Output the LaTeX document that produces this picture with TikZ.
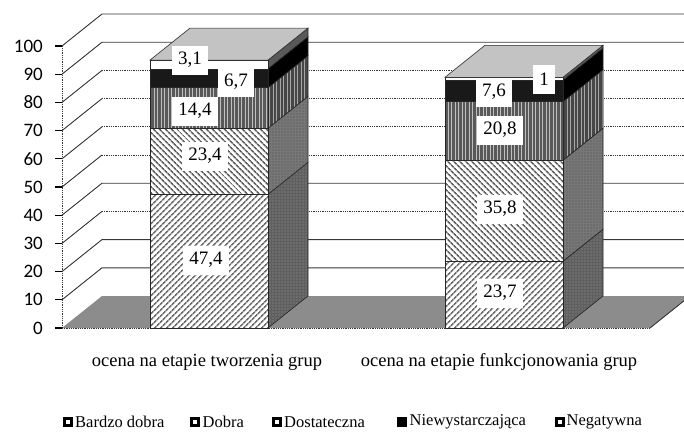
\documentclass[tikz,border=0pt]{standalone}
\usepackage{fontspec}
\setmainfont{Liberation Serif}
\newfontfamily\axisfont{Carlito}
\usetikzlibrary{patterns.meta}

\definecolor{floorgray}{RGB}{140,140,140}
\definecolor{topgray}{RGB}{195,195,195}
\definecolor{sidegray}{RGB}{95,95,95}
\definecolor{gridgray}{RGB}{55,55,55}

\tikzset{
  wall/.style={gridgray, line width=0.9pt},
  walldot/.style={wall, dash pattern=on 1pt off 0.8pt},
  ylab/.style={anchor=east, inner sep=0pt, font=\axisfont\fontsize{19}{19}\selectfont},
  valbox/.style={fill=white, inner xsep=6.5pt, inner ysep=2pt, minimum height=29pt,
    font=\fontsize{19}{19}\selectfont},
  catlab/.style={font=\fontsize{18.5}{18.5}\selectfont},
  legtext/.style={anchor=west, inner sep=0pt, font=\fontsize{16.5}{16.5}\selectfont},
  legbox/.style={draw=black, line width=2.8pt, fill=white},
  edge/.style={draw=black!85, line width=0.6pt},
  % front faces
  fbdobra/.style={edge, preaction={fill=white}, pattern={Lines[angle=45,distance=4pt,line width=1.7pt]}, pattern color=gray!85!black},
  fdobra/.style={edge, preaction={fill=white}, pattern={Lines[angle=-45,distance=4pt,line width=1.7pt]}, pattern color=gray!75!black},
  fdost/.style={edge, preaction={fill=gray!70!black}, pattern={Lines[angle=90,distance=3.5pt,line width=1pt]}, pattern color=white!75!black},
  fniew/.style={edge, fill=black!90},
  fneg/.style={edge, fill=white},
  % side faces
  sbdobra/.style={edge, preaction={fill=sidegray}, pattern={Dots[distance=3pt,radius=0.6pt]}, pattern color=gray!80},
  sdobra/.style={edge, preaction={fill=sidegray!85!white}, pattern={Dots[distance=3pt,radius=0.6pt]}, pattern color=gray!60!black},
  sdost/.style={edge, preaction={fill=sidegray!75!black}, pattern={Lines[angle=90,distance=3.5pt,line width=0.9pt]}, pattern color=gray!70},
  sniew/.style={edge, fill=black},
  sneg/.style={edge, fill=gray!70!black},
  topface/.style={edge, fill=topgray}
}

\begin{document}
\begin{tikzpicture}[x=1pt,y=-1pt]
\useasboundingbox (0,0) rectangle (684,432);
\clip (0,0) rectangle (684,432);

% floor
\fill[floorgray] (62,328)--(650,328)--(690,296)--(102,296)--cycle;
\draw[walldot] (62,328)--(650,328);
\draw[wall] (650,328)--(690,296);

% side wall and back wall
\draw[wall] (62,299.8)--(102,267.8)--(684,267.8);
\draw[wall] (62,271.6)--(102,239.6)--(684,239.6);
\draw[wall] (62,243.4)--(102,211.4); \draw[walldot] (102,211.4)--(684,211.4);
\draw[wall] (62,215.2)--(102,183.2)--(684,183.2);
\draw[wall] (62,187)--(102,155); \draw[walldot] (102,155)--(684,155);
\draw[wall] (62,158.8)--(102,126.8); \draw[walldot] (102,126.8)--(684,126.8);
\draw[wall] (62,130.6)--(102,98.6); \draw[walldot] (102,98.6)--(684,98.6);
\draw[wall] (62,102.4)--(102,70.4); \draw[walldot] (102,70.4)--(684,70.4);
\draw[wall] (62,74.2)--(102,42.2)--(684,42.2);
\draw[wall] (62,46)--(102,14)--(684,14);

% axis
\draw[walldot] (62,328)--(62,46);
\draw[black, line width=1.3pt] (55,328)--(62,328) (55,299.8)--(62,299.8) (55,271.6)--(62,271.6)
  (55,243.4)--(62,243.4) (55,215.2)--(62,215.2) (55,187)--(62,187) (55,158.8)--(62,158.8)
  (55,130.6)--(62,130.6) (55,102.4)--(62,102.4) (55,74.2)--(62,74.2) (55,46)--(62,46);
\node[ylab] (y0) at (43,328) {0};
\node[ylab] (y10) at (43,299.8) {10};
\node[ylab] (y20) at (43,271.6) {20};
\node[ylab] (y30) at (43,243.4) {30};
\node[ylab] (y40) at (43,215.2) {40};
\node[ylab] (y50) at (43,187) {50};
\node[ylab] (y60) at (43,158.8) {60};
\node[ylab] (y70) at (43,130.6) {70};
\node[ylab] (y80) at (43,102.4) {80};
\node[ylab] (y90) at (43,74.2) {90};
\node[ylab] (y100) at (43,46) {100};

% bar: ocena na etapie tworzenia grup
\filldraw[sbdobra] (268,328)--(308,296)--(308,162.3)--(268,194.3)--cycle;
\filldraw[sdobra] (268,194.3)--(308,162.3)--(308,96.3)--(268,128.3)--cycle;
\filldraw[sdost] (268,128.3)--(308,96.3)--(308,55.7)--(268,87.7)--cycle;
\filldraw[sniew] (268,87.7)--(308,55.7)--(308,36.8)--(268,68.8)--cycle;
\filldraw[sneg] (268,68.8)--(308,36.8)--(308,28.1)--(268,60.1)--cycle;
\filldraw[fbdobra] (150,328) rectangle (268,194.3);
\filldraw[fdobra] (150,194.3) rectangle (268,128.3);
\filldraw[fdost] (150,128.3) rectangle (268,87.7);
\filldraw[fniew] (150,87.7) rectangle (268,68.8);
\filldraw[fneg] (150,68.8) rectangle (268,60.1);
\filldraw[topface] (150,60.1)--(268,60.1)--(308,28.1)--(190,28.1)--cycle;

% bar: ocena na etapie funkcjonowania grup
\filldraw[sbdobra] (563,328)--(603,296)--(603,229.2)--(563,261.2)--cycle;
\filldraw[sdobra] (563,261.2)--(603,229.2)--(603,128.2)--(563,160.2)--cycle;
\filldraw[sdost] (563,160.2)--(603,128.2)--(603,69.6)--(563,101.6)--cycle;
\filldraw[sniew] (563,101.6)--(603,69.6)--(603,48.1)--(563,80.1)--cycle;
\filldraw[sneg] (563,80.1)--(603,48.1)--(603,45.3)--(563,77.3)--cycle;
\filldraw[fbdobra] (445,328) rectangle (563,261.2);
\filldraw[fdobra] (445,261.2) rectangle (563,160.2);
\filldraw[fdost] (445,160.2) rectangle (563,101.6);
\filldraw[fniew] (445,101.6) rectangle (563,80.1);
\filldraw[fneg] (445,80.1) rectangle (563,77.3);
\filldraw[topface] (445,77.3)--(563,77.3)--(603,45.3)--(485,45.3)--cycle;

% values
\node[valbox] (t474) at (206,260) {47,4};
\node[valbox] (t234) at (205,156) {23,4};
\node[valbox] (t144) at (195,111) {14,4};
\node[valbox] (t67) at (236,82) {6,7};
\node[valbox] (t31) at (190,60) {3,1};
\node[valbox] (f237) at (500,293) {23,7};
\node[valbox] (f358) at (500,209) {35,8};
\node[valbox] (f208) at (500,130) {20,8};
\node[valbox] (f76) at (494,92) {7,6};
\node[valbox] (f1) at (544,79) {1};

% categories
\node[catlab] (c1) at (207,362) {ocena na etapie tworzenia grup};
\node[catlab] (c2) at (499,362) {ocena na etapie funkcjonowania grup};

% legend
\filldraw[legbox] (64.5,418.5) rectangle (71.5,425.5);
\node[legtext] (lbd) at (75,422) {Bardzo dobra};
\filldraw[legbox] (191.5,418.5) rectangle (198.5,425.5);
\node[legtext] (ld) at (202.5,422) {Dobra};
\filldraw[legbox] (273.5,418.5) rectangle (280.5,425.5);
\node[legtext] (lds) at (284,422) {Dostateczna};
\filldraw[legbox, fill=black] (398.5,418.5) rectangle (405.5,425.5);
\node[legtext] (lni) at (409.5,422) {Niewystarczająca};
\filldraw[legbox] (556.5,418.5) rectangle (563.5,425.5);
\node[legtext] (lne) at (566.5,422) {Negatywna};
\end{tikzpicture}
\end{document}
